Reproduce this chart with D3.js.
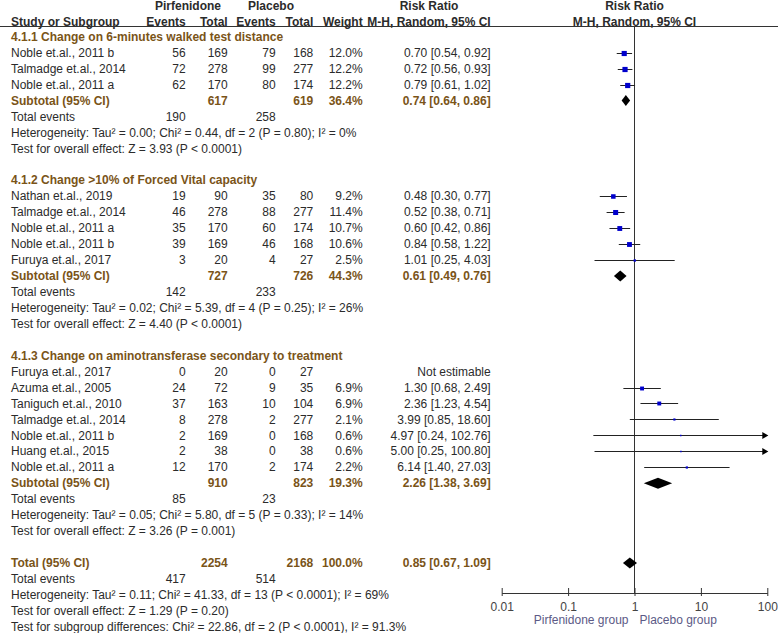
<!DOCTYPE html>
<html><head><meta charset="utf-8">
<script src="https://cdn.jsdelivr.net/npm/d3@7"></script>
<style>
body{margin:0;background:#fff;}
svg{display:block;font-family:"Liberation Sans",Arial,sans-serif;}
</style></head>
<body>
<svg id="chart" width="778" height="633"></svg>
<script>
// ---------------- DATA ----------------
const subgroupTitles = [
  "4.1.1 Change on 6-minutes walked test distance",
  "4.1.2 Change >10% of Forced Vital capacity",
  "4.1.3 Change on aminotransferase secondary to treatment"
];
const studyGroup   = [0,0,0, 1,1,1,1,1, 2,2,2,2,2,2,2];
const studyNames   = ["Noble et.al., 2011 b","Talmadge et.al., 2014","Noble et.al., 2011 a",
  "Nathan et.al., 2019","Talmadge et.al., 2014","Noble et.al., 2011 a","Noble et.al., 2011 b","Furuya et.al., 2017",
  "Furuya et.al., 2017","Azuma et.al., 2005","Taniguch et.al., 2010","Talmadge et.al., 2014","Noble et.al., 2011 b","Huang et.al., 2015","Noble et.al., 2011 a"];
const expEvents    = [56,72,62, 19,46,35,39,3, 0,24,37,8,2,2,12];
const expTotal     = [169,278,170, 90,278,170,169,20, 20,72,163,278,169,38,170];
const ctrlEvents   = [79,99,80, 35,88,60,46,4, 0,9,10,2,0,0,2];
const ctrlTotal    = [168,277,174, 80,277,174,168,27, 27,35,104,277,168,38,174];
const weights      = [12.0,12.2,12.2, 9.2,11.4,10.7,10.6,2.5, null,6.9,6.9,2.1,0.6,0.6,2.2];
const riskRatio    = [0.70,0.72,0.79, 0.48,0.52,0.60,0.84,1.01, null,1.30,2.36,3.99,4.97,5.00,6.14];
const ciLow        = [0.54,0.56,0.61, 0.30,0.38,0.42,0.58,0.25, null,0.68,1.23,0.85,0.24,0.25,1.40];
const ciHigh       = [0.92,0.93,1.02, 0.77,0.71,0.86,1.22,4.03, null,2.49,4.54,18.60,102.76,100.80,27.03];

const subExpTotal  = [617,727,910];
const subCtrlTotal = [619,726,823];
const subWeight    = ["36.4%","44.3%","19.3%"];
const subRR        = [0.74,0.61,2.26];
const subLow       = [0.64,0.49,1.38];
const subHigh      = [0.86,0.76,3.69];
const subExpEvents = [190,142,85];
const subCtrlEvents= [258,233,23];
const subHetero    = [
  "Heterogeneity: Tau\u00b2 = 0.00; Chi\u00b2 = 0.44, df = 2 (P = 0.80); I\u00b2 = 0%",
  "Heterogeneity: Tau\u00b2 = 0.02; Chi\u00b2 = 5.39, df = 4 (P = 0.25); I\u00b2 = 26%",
  "Heterogeneity: Tau\u00b2 = 0.05; Chi\u00b2 = 5.80, df = 5 (P = 0.33); I\u00b2 = 14%"
];
const subTest      = [
  "Test for overall effect: Z = 3.93 (P < 0.0001)",
  "Test for overall effect: Z = 4.40 (P < 0.0001)",
  "Test for overall effect: Z = 3.26 (P = 0.001)"
];
const totalValues  = {expTotal:2254, ctrlTotal:2168, weight:"100.0%", rr:0.85, lo:0.67, hi:1.09, expEvents:417, ctrlEvents:514};
const totalTexts   = [
  "Heterogeneity: Tau\u00b2 = 0.11; Chi\u00b2 = 41.33, df = 13 (P < 0.0001); I\u00b2 = 69%",
  "Test for overall effect: Z = 1.29 (P = 0.20)",
  "Test for subgroup differences: Chi\u00b2 = 22.86, df = 2 (P < 0.0001), I\u00b2 = 91.3%"
];
const axisTicks    = [0.01, 0.1, 1, 10, 100];
const axisTickLabels = ["0.01","0.1","1","10","100"];
const favourLabels = ["Pirfenidone group","Placebo group"];

// ---------------- LAYOUT ----------------
const svg = d3.select("#chart");
const txt = "#2b2b2b", hdr = "#7a5418", blue = "#0000cc";
const FS = 12;
const rowY = d3.scaleLinear().domain([0,37]).range([36.7,626.7]);
const x = d3.scaleLog().domain([0.01,100]).range([501.7,767.3]);
const axisY = 593;
const col = {name:11, e1:185.7, n1:227.7, e2:275.7, n2:313.3, w:362.7, rr:490.7};
const fmt2 = d3.format(".2f");
const rrText = (r,l,h) => `${fmt2(r)} [${fmt2(l)}, ${fmt2(h)}]`;

function text(xp, yp, s, opts={}) {
  return svg.append("text").attr("x", xp).attr("y", yp).attr("dy","0.35em")
    .attr("font-size", opts.size || FS)
    .attr("font-weight", opts.bold ? "bold" : "normal")
    .attr("text-anchor", opts.anchor || "start")
    .attr("fill", opts.color || txt).text(s);
}

// Headers
text(188, 6, "Pirfenidone", {bold:true, anchor:"middle"});
text(271, 6, "Placebo", {bold:true, anchor:"middle"});
text(429, 6, "Risk Ratio", {bold:true, anchor:"middle"});
text(634.5, 6, "Risk Ratio", {bold:true, anchor:"middle"});
const hy = 21.5;
text(col.name, hy, "Study or Subgroup", {bold:true});
text(col.e1, hy, "Events", {bold:true, anchor:"end"});
text(col.n1, hy, "Total", {bold:true, anchor:"end"});
text(col.e2, hy, "Events", {bold:true, anchor:"end"});
text(col.n2, hy, "Total", {bold:true, anchor:"end"});
text(col.w, hy, "Weight", {bold:true, anchor:"end"});
text(col.rr, hy, "M-H, Random, 95% CI", {bold:true, anchor:"end"});
text(634.5, hy, "M-H, Random, 95% CI", {bold:true, anchor:"middle"});
svg.append("line").attr("x1",0).attr("x2",778).attr("y1",26.5).attr("y2",26.5)
  .attr("stroke","#333").attr("stroke-width",1.2);

// Vertical line of no effect
svg.append("line").attr("x1",x(1)).attr("x2",x(1)).attr("y1",26.5).attr("y2",axisY)
  .attr("stroke","#333").attr("stroke-width",1);

const sqSize = d3.scaleSqrt().domain([0,12.2]).range([0,5.2]);

function diamond(r,l,h,yc){
  const hh = 5.5;
  svg.append("path").attr("d",
    `M${x(l)},${yc} L${x(r)},${yc-hh} L${x(h)},${yc} L${x(r)},${yc+hh} Z`).attr("fill","#000");
}

const starts = [0,9,20];
subgroupTitles.forEach((title,g)=>{
  const s = starts[g];
  text(col.name, rowY(s), title, {bold:true, color:hdr});
  const idx = studyNames.map((_,i)=>i).filter(i=>studyGroup[i]===g);
  idx.forEach((i,k)=>{
    const y = rowY(s+1+k);
    text(col.name, y, studyNames[i]);
    text(col.e1, y, expEvents[i], {anchor:"end"});
    text(col.n1, y, expTotal[i], {anchor:"end"});
    text(col.e2, y, ctrlEvents[i], {anchor:"end"});
    text(col.n2, y, ctrlTotal[i], {anchor:"end"});
    if (weights[i] === null) {
      text(col.rr, y, "Not estimable", {anchor:"end"});
      return;
    }
    text(col.w, y, weights[i].toFixed(1)+"%", {anchor:"end"});
    text(col.rr, y, rrText(riskRatio[i],ciLow[i],ciHigh[i]), {anchor:"end"});
    const yl = Math.round(y)+0.5;
    const hiC = Math.min(ciHigh[i],100), loC = Math.max(ciLow[i],0.01);
    svg.append("line").attr("x1",x(loC)).attr("x2",x(hiC)).attr("y1",yl).attr("y2",yl)
      .attr("stroke","#222").attr("stroke-width",1);
    if (ciHigh[i] > 100) {
      const xe = x(100);
      svg.append("path").attr("d",`M${xe+1},${yl} L${xe-5},${yl-3.5} L${xe-5},${yl+3.5} Z`).attr("fill","#000");
    }
    const sz = Math.max(1.5, sqSize(weights[i]));
    svg.append("rect").attr("x",x(riskRatio[i])-sz/2).attr("y",yl-sz/2)
      .attr("width",sz).attr("height",sz).attr("fill",blue);
  });
  const n = idx.length;
  const ys = rowY(s+n+1);
  text(col.name, ys, "Subtotal (95% CI)", {bold:true, color:hdr});
  text(col.n1, ys, subExpTotal[g], {bold:true, color:hdr, anchor:"end"});
  text(col.n2, ys, subCtrlTotal[g], {bold:true, color:hdr, anchor:"end"});
  text(col.w, ys, subWeight[g], {bold:true, color:hdr, anchor:"end"});
  text(col.rr, ys, rrText(subRR[g],subLow[g],subHigh[g]), {bold:true, color:hdr, anchor:"end"});
  diamond(subRR[g],subLow[g],subHigh[g],ys);
  const yt = rowY(s+n+2);
  text(col.name, yt, "Total events");
  text(col.e1, yt, subExpEvents[g], {anchor:"end"});
  text(col.e2, yt, subCtrlEvents[g], {anchor:"end"});
  text(col.name, rowY(s+n+3), subHetero[g]);
  text(col.name, rowY(s+n+4), subTest[g]);
});

// Overall
const yT = rowY(33);
text(col.name, yT, "Total (95% CI)", {bold:true, color:hdr});
text(col.n1, yT, totalValues.expTotal, {bold:true, color:hdr, anchor:"end"});
text(col.n2, yT, totalValues.ctrlTotal, {bold:true, color:hdr, anchor:"end"});
text(col.w, yT, totalValues.weight, {bold:true, color:hdr, anchor:"end"});
text(col.rr, yT, rrText(totalValues.rr,totalValues.lo,totalValues.hi), {bold:true, color:hdr, anchor:"end"});
diamond(totalValues.rr,totalValues.lo,totalValues.hi,yT);
text(col.name, rowY(34), "Total events");
text(col.e1, rowY(34), totalValues.expEvents, {anchor:"end"});
text(col.e2, rowY(34), totalValues.ctrlEvents, {anchor:"end"});
totalTexts.forEach((t,k)=> text(col.name, rowY(35+k), t));

// Axis
const axis = d3.axisBottom(x).tickValues(axisTicks)
  .tickFormat((d,i)=>axisTickLabels[i]).tickSizeOuter(0).tickSizeInner(3).tickPadding(6);
const ag = svg.append("g").attr("transform",`translate(0,${axisY})`).call(axis);
ag.select(".domain").attr("stroke","#333");
ag.selectAll(".tick line").attr("y1",-5).attr("y2",3).attr("stroke","#333");
ag.selectAll(".tick text").attr("font-size",FS).attr("fill","#444")
  .attr("font-family",'"Liberation Sans",Arial,sans-serif');
text(628.5, 620, favourLabels[0], {anchor:"end", color:"#5c5a86"});
text(639.5, 620, favourLabels[1], {anchor:"start", color:"#5c5a86"});
</script>
</body></html>
